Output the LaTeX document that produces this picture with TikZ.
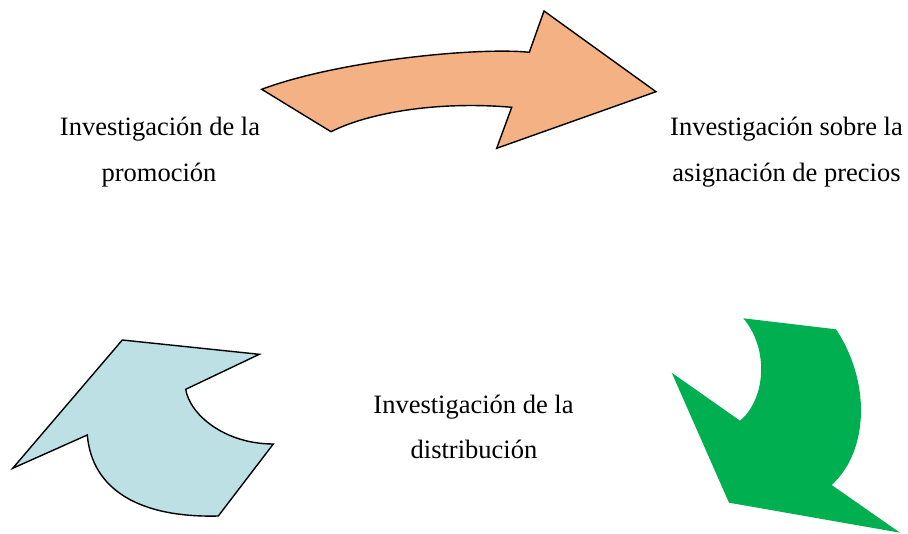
\documentclass[tikz,border=0pt]{standalone}
\usepackage{fontspec}
\setmainfont{Liberation Serif}
\definecolor{arrOrange}{RGB}{244,177,131}
\definecolor{arrBlue}{RGB}{188,224,227}
\definecolor{arrGreen}{RGB}{0,176,80}
\tikzset{
  lbl/.style={anchor=base, inner sep=0pt, font=\fontsize{26.5}{30}\selectfont},
  outlined/.style={draw=black, line width=1.4pt, line join=miter}
}
\begin{document}
\begin{tikzpicture}[x=1pt,y=-1pt]
\useasboundingbox (0,0) rectangle (908,534);
% orange arrow
\path[outlined, fill=arrOrange]
  (261.7,89.3) -- (331,131.7)
  .. controls (370,112) and (440,101) .. (511.7,107.3)
  -- (496.7,148.3) -- (656,91.7) -- (544,11) -- (529.3,52.3)
  .. controls (480,47) and (340,60) .. (261.7,89.3) -- cycle;
% blue arrow
\path[outlined, fill=arrBlue]
  (12.7,468.3) -- (122.3,340) -- (259.3,354.3) -- (185.7,389.3)
  .. controls (190,415) and (225,444) .. (273.3,444)
  -- (218.3,516)
  .. controls (140,518) and (92,490) .. (87.3,435)
  -- cycle;
% green arrow
\path[fill=arrGreen]
  (743.3,318.3) -- (836,329.3)
  .. controls (870,380) and (870,450) .. (831.7,485)
  -- (900,532.7) -- (729,502.7) -- (671.7,372.7) -- (740,420.7)
  .. controls (765,400) and (770,350) .. (743.3,318.3) -- cycle;
% labels
\node[lbl] (p1) at (160,135.5) {Investigación de la};
\node[lbl] (p2) at (159,181.5) {promoción};
\node[lbl] (r1) at (786.5,135.5) {Investigación sobre la};
\node[lbl] (r2) at (786.5,181.5) {asignación de precios};
\node[lbl] (d1) at (473.5,413.3) {Investigación de la};
\node[lbl] (d2) at (474,458.3) {distribución};
\end{tikzpicture}
\end{document}
